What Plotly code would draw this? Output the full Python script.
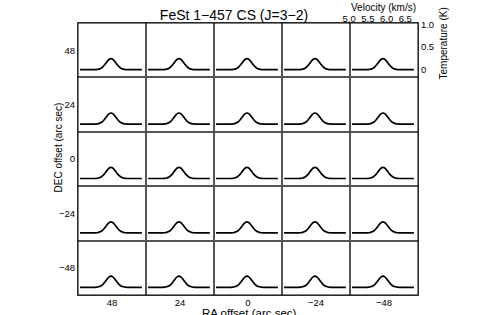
import plotly.graph_objects as go

# ---- data ----
ra_offsets = [48, 24, 0, -24, -48]      # columns (arc sec)
dec_offsets = [48, 24, 0, -24, -48]     # rows (arc sec)
velocity = [5.00, 5.05, 5.10, 5.15, 5.20, 5.25, 5.30, 5.35, 5.40, 5.45,
            5.50, 5.55, 5.60, 5.65, 5.70, 5.75, 5.80, 5.85, 5.90, 5.95,
            6.00, 6.05, 6.10, 6.15, 6.20, 6.25, 6.30, 6.35, 6.40, 6.45, 6.50]
temperature = [0.0, 0.0, 0.0, 0.0, 0.0, 0.0, 0.0, 0.0, 0.003, 0.011,
               0.028, 0.061, 0.112, 0.173, 0.225, 0.245, 0.225, 0.173, 0.112, 0.061,
               0.028, 0.011, 0.003, 0.0, 0.0, 0.0, 0.0, 0.0, 0.0, 0.0, 0.0]
velocity_ticks = [5.0, 5.5, 6.0, 6.5]
velocity_ticktext = ["5.0", "5.5", "6.0", "6.5"]
temp_ticks = [0, 0.5, 1.0]
temp_ticktext = ["0", "0.5", "1.0"]

FONT = "Liberation Sans, Arial, sans-serif"
TICKFONT = dict(size=9.5, color="black", family=FONT)
W, H = 491, 315
GX0, GX1, GY0, GY1 = 78, 418, 23, 295   # grid box in window pixels
L, T = GX0, GY0
R, B = W - GX1, H - GY1
PW, PH = GX1 - GX0, GY1 - GY0


def px(x):
    return (x - GX0) / PW


def py(y):
    return 1 - (y - GY0) / PH


fig = go.Figure()
layout = {}
n = 5
for r in range(n):
    for c in range(n):
        idx = r * n + c + 1
        xa = "x" if idx == 1 else f"x{idx}"
        ya = "y" if idx == 1 else f"y{idx}"
        fig.add_trace(go.Scatter(x=velocity, y=temperature, xaxis=xa, yaxis=ya,
                                 mode="lines", line=dict(color="black", width=1.7, shape="spline"),
                                 showlegend=False, hoverinfo="skip"))
        xkey = "xaxis" if idx == 1 else f"xaxis{idx}"
        ykey = "yaxis" if idx == 1 else f"yaxis{idx}"
        top_right = (r == 0 and c == n - 1)
        layout[xkey] = dict(domain=[c / n, (c + 1) / n], anchor=ya, range=[4.95, 6.6],
                            showline=True, mirror=True, linecolor="#555", linewidth=1,
                            showgrid=False, zeroline=False, ticks="",
                            showticklabels=False, automargin=False)
        layout[ykey] = dict(domain=[1 - (r + 1) / n, 1 - r / n], anchor=xa, range=[-0.17, 1.03],
                            showline=True, mirror=True, linecolor="#555", linewidth=1,
                            showgrid=False, zeroline=False, ticks="",
                            showticklabels=top_right, automargin=False,
                            tickvals=temp_ticks, ticktext=temp_ticktext,
                            side="right" if top_right else "left",
                            tickfont=TICKFONT)

# overlay axes for the offsets
k = n * n + 1
fig.add_trace(go.Scatter(x=[0], y=[0], xaxis=f"x{k}", yaxis=f"y{k}", mode="markers",
                         marker=dict(opacity=0), showlegend=False, hoverinfo="skip"))
layout[f"xaxis{k}"] = dict(domain=[0, 1], anchor=f"y{k}", range=[60, -60],
                           tickvals=ra_offsets, showgrid=False, zeroline=False,
                           showline=False, ticks="", automargin=False,
                           tickfont=TICKFONT)
layout[f"yaxis{k}"] = dict(domain=[0, 1], anchor=f"x{k}", range=[-60, 60],
                           tickvals=dec_offsets, showgrid=False, zeroline=False,
                           showline=False, ticks="", automargin=False,
                           ticklabelstandoff=2, tickfont=TICKFONT)

# velocity scale drawn above the top-right panel
v = k + 1
fig.add_trace(go.Scatter(x=[5.5], y=[0], xaxis=f"x{v}", yaxis=f"y{k}", mode="markers",
                         marker=dict(opacity=0), showlegend=False, hoverinfo="skip"))
layout[f"xaxis{v}"] = dict(domain=[px(340), 1], anchor="free", position=1, side="top",
                           range=[4.754, 6.84], tickvals=velocity_ticks,
                           ticktext=velocity_ticktext, showgrid=False, zeroline=False,
                           showline=False, ticks="", automargin=False,
                           ticklabelstandoff=-1, tickfont=TICKFONT)

fig.update_layout(**layout)
fig.update_layout(
    width=W, height=H,
    margin=dict(l=L, r=R, t=T, b=B, pad=0, autoexpand=False),
    paper_bgcolor="white", plot_bgcolor="rgba(0,0,0,0)",
    font=dict(family=FONT, color="black"),
    hovermode=False,
    title=dict(text="FeSt 1\u2212457 CS (J=3\u22122)", x=234 / W, xanchor="center",
               y=1 - 15 / H, yanchor="middle", yref="container", automargin=False,
               font=dict(size=14, color="black", family=FONT)),
    shapes=[dict(type="rect", xref="paper", yref="paper", x0=0, x1=1, y0=0, y1=1,
                 line=dict(color="black", width=1))],
    annotations=[
        dict(text="DEC offset (arc sec)", xref="paper", yref="paper",
             x=px(58), y=py(147.5), textangle=-90,
             showarrow=False, xanchor="center", yanchor="middle",
             font=dict(size=10, color="black", family=FONT)),
        dict(text="RA offset (arc sec)", xref="paper", yref="paper",
             x=px(249.2), y=py(312.5),
             showarrow=False, xanchor="center", yanchor="middle",
             font=dict(size=11.5, color="black", family=FONT)),
        dict(text="Velocity (km/s)", xref="paper", yref="paper",
             x=px(383.5), y=py(7.5),
             showarrow=False, xanchor="center", yanchor="middle",
             font=dict(size=10, color="black", family=FONT)),
        dict(text="Temperature (K)", xref="paper", yref="paper",
             x=px(443), y=py(43.5), textangle=-90,
             showarrow=False, xanchor="center", yanchor="middle",
             font=dict(size=10, color="black", family=FONT)),
    ],
)

fig.write_html("out.html", config={"displayModeBar": False, "staticPlot": True},
               post_script="document.body.style.margin='0';document.body.style.overflow='hidden';")
